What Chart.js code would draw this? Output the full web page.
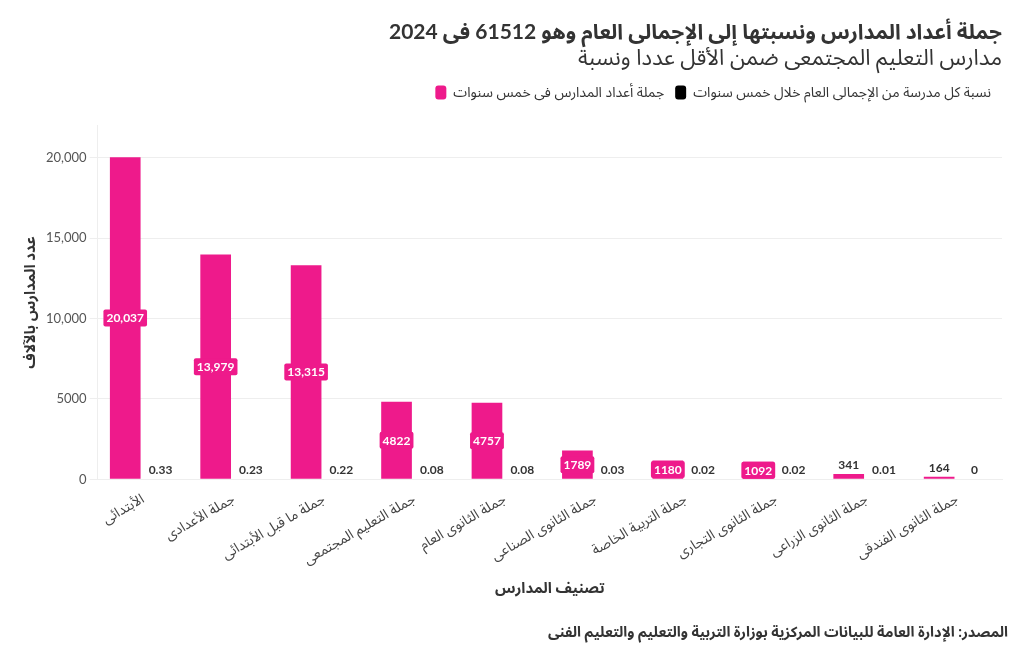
<!DOCTYPE html>
<html>
<head>
<meta charset="utf-8">
<script src="https://cdn.jsdelivr.net/npm/chart.js@4/dist/chart.umd.min.js"></script>
<style>
  body { margin: 0; background: #fff; }
  #wrap { position: relative; width: 1020px; height: 650px; }
  #source {
    position: absolute; right: 12px; top: 617px;
    font: bold 14.5px Lato, "Noto Sans Arabic", "Noto Sans", "DejaVu Sans", sans-serif;
    color: #333; direction: rtl;
  }
</style>
</head>
<body>
<div id="wrap">
  <canvas id="chart" width="1020" height="650"></canvas>
  <div id="source">المصدر: الإدارة العامة للبيانات المركزية بوزارة التربية والتعليم والتعليم الفنى</div>
</div>
<script>
// categories and values
var categories = ['الأبتدائى', 'جملة الأعدادى', 'جملة ما قبل الأبتدائى', 'جملة التعليم المجتمعى', 'جملة الثانوى العام',
  'جملة الثانوى الصناعى', 'جملة التربية الخاصة', 'جملة الثانوى التجارى', 'جملة الثانوى الزراعى', 'جملة الثانوى الفندقى'];
var schoolCounts = [20037, 13979, 13315, 4822, 4757, 1789, 1180, 1092, 341, 164];
var shareOfTotal = [0.33, 0.23, 0.22, 0.08, 0.08, 0.03, 0.02, 0.02, 0.01, 0];
var yTicks = [0, 5000, 10000, 15000, 20000];

var pink = '#ee1a8b';
var font = 'Lato, "Noto Sans Arabic", "Noto Sans", "DejaVu Sans", sans-serif';

function fmt(v) {
  if (v >= 10000) return v.toLocaleString('en-US');
  return String(v);
}

// draws the value labels on the bars
var barLabels = {
  id: 'barLabels',
  afterDatasetsDraw: function (chart) {
    var ctx = chart.ctx;
    ctx.save();
    ctx.font = 'bold 12px ' + font;
    ctx.textAlign = 'center';
    ctx.textBaseline = 'middle';
    chart.data.datasets.forEach(function (ds, di) {
      var meta = chart.getDatasetMeta(di);
      meta.data.forEach(function (bar, i) {
        var v = ds.data[i];
        var txt = fmt(v);
        if (di === 0 && v > 1000) {
          var y = (bar.y + bar.base) / 2;
          var w = ctx.measureText(txt).width + 6;
          ctx.fillStyle = pink;
          ctx.beginPath();
          ctx.roundRect(bar.x - w / 2, y - 8.5, w, 17, 2);
          ctx.fill();
          ctx.fillStyle = '#fff';
          ctx.fillText(txt, bar.x, y + 0.5);
        } else {
          ctx.fillStyle = '#333';
          ctx.fillText(txt, bar.x, bar.y - 9);
        }
      });
    });
    ctx.restore();
  }
};

// extra room under the legend
var legendGap = {
  id: 'legendGap',
  beforeInit: function (chart) {
    var fit = chart.legend.fit;
    chart.legend.fit = function () {
      fit.bind(chart.legend)();
      this.height += 16;
    };
  }
};

new Chart(document.getElementById('chart'), {
  type: 'bar',
  data: {
    labels: categories,
    datasets: [{
      label: 'جملة أعداد المدارس فى خمس سنوات',
      data: schoolCounts,
      backgroundColor: pink
    }, {
      label: 'نسبة كل مدرسة من الإجمالى العام خلال خمس سنوات',
      data: shareOfTotal,
      backgroundColor: 'rgba(0,0,0,0)'
    }]
  },
  options: {
    responsive: false,
    animation: false,
    categoryPercentage: 0.78,
    barPercentage: 0.87,
    layout: { padding: { left: 17, right: 18, top: 4, bottom: 49 } },
    plugins: {
      title: {
        display: true,
        text: 'جملة أعداد المدارس ونسبتها إلى الإجمالى العام وهو 61512 فى 2024',
        align: 'end',
        color: '#333',
        font: { family: font, size: 21, weight: 'bold' },
        padding: { top: 16, bottom: 0 }
      },
      subtitle: {
        display: true,
        text: 'مدارس التعليم المجتمعى ضمن الأقل عددا ونسبة',
        align: 'end',
        color: '#333',
        font: { family: font, size: 22 },
        padding: { bottom: 3 }
      },
      legend: {
        align: 'end',
        labels: {
          color: '#333',
          font: { family: font, size: 14 },
          boxWidth: 11,
          boxHeight: 14,
          useBorderRadius: true,
          borderRadius: 3,
          padding: 11,
          generateLabels: function (chart) {
            var items = Chart.defaults.plugins.legend.labels.generateLabels(chart);
            items[1].fillStyle = '#000';
            items[1].strokeStyle = '#000';
            return items;
          }
        }
      },
      tooltip: { enabled: false }
    },
    scales: {
      x: {
        grid: { display: false },
        border: { color: '#eee' },
        ticks: {
          color: '#444',
          font: { family: font, size: 14 },
          minRotation: 30,
          maxRotation: 30
        },
        title: {
          display: true,
          text: 'تصنيف المدارس',
          color: '#333',
          font: { family: font, size: 15, weight: 'bold' },
          padding: { top: 8 }
        }
      },
      y: {
        min: 0,
        max: 22000,
        afterBuildTicks: function (scale) {
          scale.ticks = yTicks.map(function (v) { return { value: v }; });
        },
        grid: { color: '#eee', tickLength: 8 },
        border: { color: '#eee' },
        ticks: {
          color: '#555',
          font: { family: font, size: 13 },
          callback: function (v) { return fmt(v); }
        },
        title: {
          display: true,
          text: 'عدد المدارس بالآلاف',
          color: '#333',
          font: { family: font, size: 15, weight: 'bold' },
          padding: { bottom: 4 }
        }
      }
    }
  },
  plugins: [barLabels, legendGap]
});
</script>
</body>
</html>
